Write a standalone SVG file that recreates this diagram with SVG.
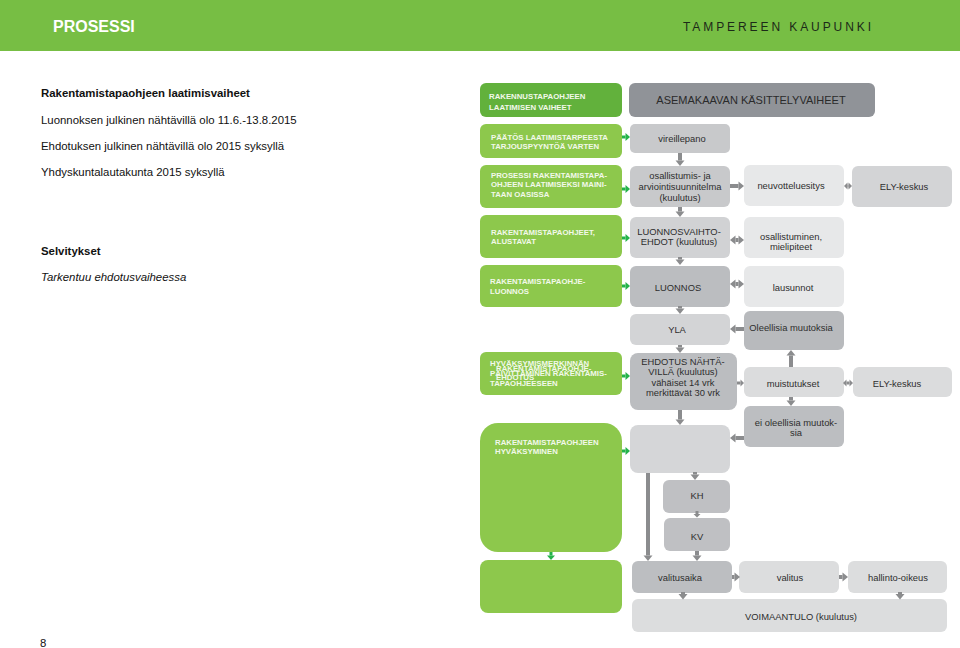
<svg xmlns="http://www.w3.org/2000/svg" width="960" height="648" viewBox="0 0 960 648">
<defs>
<style>
.t{font-family:"Liberation Sans",Arial,sans-serif;}
.lt{font-family:"Liberation Sans",Arial,sans-serif;font-size:11.4px;fill:#111;}
.gb{font-family:"Liberation Sans",Arial,sans-serif;font-weight:bold;font-size:7.8px;fill:#F2F8EA;}
.gt{font-family:"Liberation Sans",Arial,sans-serif;font-size:9.4px;fill:#2e2e2e;text-anchor:middle;}
.grn{fill:#8DC84C;}
.ar{fill:none;stroke:#8B8C8E;stroke-width:4;}
.as{fill:none;stroke:#8B8C8E;stroke-width:3;}
.ag{fill:none;stroke:#25B34B;stroke-width:3;}
</style>
<marker id="ah" markerUnits="userSpaceOnUse" markerWidth="8" markerHeight="12" refX="0" refY="5" orient="auto-start-reverse" overflow="visible"><path d="M0,0.5 L5.5,5 L0,9.5 z" fill="#8B8C8E"/></marker>
<marker id="ahs" markerUnits="userSpaceOnUse" markerWidth="6" markerHeight="8" refX="0" refY="3.5" orient="auto-start-reverse" overflow="visible"><path d="M0,0 L3.5,3.5 L0,7 z" fill="#8B8C8E"/></marker>
<marker id="ahg" markerUnits="userSpaceOnUse" markerWidth="6" markerHeight="9" refX="0" refY="4" orient="auto" overflow="visible"><path d="M0,0 L4.5,4 L0,8 z" fill="#25B34B"/></marker>
</defs>
<rect width="960" height="648" fill="#fff"/>
<g id="header">
<rect x="0" y="0" width="960" height="51" fill="#77BE44"/>
<text class="t" x="53" y="32" font-size="16" font-weight="bold" fill="#fff">PROSESSI</text>
<text class="t" x="683" y="31" font-size="12" fill="#1c2a18" textLength="188" lengthAdjust="spacing">TAMPEREEN KAUPUNKI</text>
</g>
<g id="left-text">
<text class="lt" x="41" y="97" font-weight="bold">Rakentamistapaohjeen laatimisvaiheet</text>
<text class="lt" x="41" y="124">Luonnoksen julkinen nähtävillä olo 11.6.-13.8.2015</text>
<text class="lt" x="41" y="150">Ehdotuksen julkinen nähtävillä olo 2015 syksyllä</text>
<text class="lt" x="41" y="176">Yhdyskuntalautakunta 2015 syksyllä</text>
<text class="lt" x="41" y="255" font-weight="bold">Selvitykset</text>
<text class="lt" x="41" y="281" font-style="italic">Tarkentuu ehdotusvaiheessa</text>
<text class="lt" x="40" y="647">8</text>
</g>
<g id="g1"><rect x="480" y="83" width="142" height="34" rx="6" fill="#62B13C"/>
<text class="gb" x="489" y="99.3" font-size="9" fill="#fff">RAKENNUSTAPAOHJEEN</text>
<text class="gb" x="489" y="110.3" font-size="9" fill="#fff">LAATIMISEN VAIHEET</text></g>
<g id="g2"><rect class="grn" x="480" y="124" width="142" height="34" rx="6"/>
<text class="gb" x="491" y="139.8">PÄÄTÖS LAATIMISTARPEESTA</text>
<text class="gb" x="491" y="148.8">TARJOUSPYYNTÖÄ VARTEN</text></g>
<g id="g3"><rect class="grn" x="480" y="165" width="142" height="43" rx="6"/>
<text class="gb" x="491" y="178">PROSESSI RAKENTAMISTAPA-</text>
<text class="gb" x="491" y="187">OHJEEN LAATIMISEKSI MAINI-</text>
<text class="gb" x="491" y="197">TAAN OASISSA</text></g>
<g id="g4"><rect class="grn" x="480" y="215" width="142" height="43" rx="6"/>
<text class="gb" x="491" y="234.8">RAKENTAMISTAPAOHJEET,</text>
<text class="gb" x="491" y="243.8">ALUSTAVAT</text></g>
<g id="g5"><rect class="grn" x="480" y="265" width="142" height="42" rx="6"/>
<text class="gb" x="490" y="283.8">RAKENTAMISTAPAOHJE-</text>
<text class="gb" x="490" y="293.8">LUONNOS</text></g>
<g id="g6"><rect class="grn" x="480" y="352" width="142" height="43" rx="6"/>
<text class="gb" x="490" y="366">HYVÄKSYMISMERKINNÄN</text>
<text class="gb" x="496" y="370.5">RAKENTAMISTAPAOHJE-</text>
<text class="gb" x="490" y="376">PÄIVITTÄMINEN RAKENTAMIS-</text>
<text class="gb" x="496" y="379.5">EHDOTUS</text>
<text class="gb" x="490" y="385.5">TAPAOHJEESEEN</text></g>
<g id="g7"><rect class="grn" x="480" y="423" width="142" height="129" rx="18"/>
<text class="gb" x="495" y="444.8">RAKENTAMISTAPAOHJEEN</text>
<text class="gb" x="495" y="453.8">HYVÄKSYMINEN</text></g>
<g id="g8"><rect class="grn" x="480" y="560" width="142" height="53" rx="8"/></g>
<g id="asemakaava"><rect x="629" y="83" width="246" height="34" rx="6" fill="#909398"/>
<text class="t" x="751" y="104" font-size="11" fill="#2a2a2a" text-anchor="middle">ASEMAKAAVAN KÄSITTELYVAIHEET</text></g>
<g id="vireillepano"><rect x="630" y="124" width="100" height="29" rx="5" fill="#C8C9CB"/>
<text class="gt" x="682" y="141.5">vireillepano</text></g>
<g id="oas"><rect x="630" y="166" width="100" height="41" rx="6" fill="#C8C9CB"/>
<text class="gt" x="680" y="179.3">osallistumis- ja</text>
<text class="gt" x="680" y="190">arviointisuunnitelma</text>
<text class="gt" x="680" y="200.5">(kuulutus)</text></g>
<g id="neuvotteluesitys"><rect x="744" y="165" width="100" height="41" rx="6" fill="#E7E8E9"/>
<text class="gt" x="791" y="188.8">neuvotteluesitys</text></g>
<g id="ely1"><rect x="852" y="166" width="100" height="41" rx="6" fill="#D3D4D6"/>
<text class="gt" x="904" y="190">ELY-keskus</text></g>
<g id="luonnosvaihto"><rect x="630" y="217" width="100" height="41" rx="6" fill="#D1D2D4"/>
<text class="gt" x="679" y="234.5">LUONNOSVAIHTO-</text>
<text class="gt" x="679" y="245">EHDOT (kuulutus)</text></g>
<g id="osallistuminen"><rect x="744" y="217" width="100" height="41" rx="6" fill="#E7E8E9"/>
<text class="gt" x="791" y="239.5">osallistuminen,</text>
<text class="gt" x="791" y="249.5">mielipiteet</text></g>
<g id="luonnos"><rect x="630" y="266" width="100" height="41" rx="6" fill="#BBBDC0"/>
<text class="gt" x="678" y="290.5">LUONNOS</text></g>
<g id="lausunnot"><rect x="744" y="266" width="100" height="41" rx="6" fill="#E7E8E9"/>
<text class="gt" x="793" y="291">lausunnot</text></g>
<g id="yla"><rect x="630" y="314" width="100" height="31" rx="6" fill="#D3D4D6"/>
<text class="gt" x="677" y="333">YLA</text></g>
<g id="oleellisia"><rect x="744" y="311" width="100" height="39" rx="6" fill="#B8BABD"/>
<text class="gt" x="791" y="330.5">Oleellisia muutoksia</text></g>
<g id="ehdotus"><rect x="630" y="353" width="107" height="57" rx="8" fill="#BBBDC0"/>
<text class="gt" x="683" y="364.5">EHDOTUS NÄHTÄ-</text>
<text class="gt" x="683" y="375">VILLÄ (kuulutus)</text>
<text class="gt" x="683" y="385.5">vähäiset 14 vrk</text>
<text class="gt" x="683" y="396">merkittävät 30 vrk</text></g>
<g id="muistutukset"><rect x="744" y="367" width="100" height="30" rx="6" fill="#DBDCDD"/>
<text class="gt" x="793" y="386.5">muistutukset</text></g>
<g id="ely2"><rect x="853" y="367" width="99" height="30" rx="6" fill="#DBDCDD"/>
<text class="gt" x="897" y="386.5">ELY-keskus</text></g>
<g id="eioleellisia"><rect x="744" y="406" width="100" height="41" rx="6" fill="#BCBEC1"/>
<text class="gt" x="796" y="425.5">ei oleellisia muutok-</text>
<text class="gt" x="796" y="436">sia</text></g>
<g id="empty"><rect x="630" y="425" width="100" height="48" rx="8" fill="#D5D6D8"/></g>
<g id="kh"><rect x="663" y="480" width="67" height="33" rx="6" fill="#BFC0C3"/>
<text class="gt" x="697" y="498.5">KH</text></g>
<g id="kv"><rect x="664" y="518" width="66" height="33" rx="6" fill="#BFC0C3"/>
<text class="gt" x="697" y="539.5">KV</text></g>
<g id="valitusaika"><rect x="632" y="561" width="100" height="32" rx="6" fill="#BCBEC1"/>
<text class="gt" x="680" y="581">valitusaika</text></g>
<g id="valitus"><rect x="739" y="561" width="100" height="32" rx="6" fill="#DCDDDE"/>
<text class="gt" x="790" y="581">valitus</text></g>
<g id="hallinto"><rect x="848" y="561" width="99" height="32" rx="6" fill="#DCDDDE"/>
<text class="gt" x="898" y="581">hallinto-oikeus</text></g>
<g id="voimaantulo"><rect x="632" y="599" width="315" height="33" rx="6" fill="#DCDDDE"/>
<text class="gt" x="801" y="619.5">VOIMAANTULO (kuulutus)</text></g>
<g id="connectors">
<path class="ar" d="M680,153 V160.5" marker-end="url(#ah)"/>
<path class="ar" d="M680,207 V211.5" marker-end="url(#ah)"/>
<path class="ar" d="M680,257 V259.5" marker-end="url(#ah)"/>
<path class="ar" d="M680,306 V308.5" marker-end="url(#ah)"/>
<path class="ar" d="M680,345 V347.5" marker-end="url(#ah)"/>
<path class="ar" d="M680,410 V419.5" marker-end="url(#ah)"/>
<path class="ar" d="M695,472 V474.5" marker-end="url(#ah)"/>
<path class="as" d="M697,511 V514" marker-end="url(#ahs)"/>
<path class="ar" d="M697,551 V555.5" marker-end="url(#ah)"/>
<path class="ar" d="M648,473 V555.5" marker-end="url(#ah)"/>
<path class="ar" d="M730,186 H738.5" marker-end="url(#ah)"/>
<path class="as" d="M847.5,186 H848.5" marker-start="url(#ahs)" marker-end="url(#ahs)"/>
<path class="ar" d="M735.5,240 H738.5" marker-start="url(#ah)" marker-end="url(#ah)"/>
<path class="ar" d="M735.5,284 H738.5" marker-start="url(#ah)" marker-end="url(#ah)"/>
<path class="ar" d="M744,329 H735.5" marker-end="url(#ah)"/>
<path class="as" d="M737,383 H740.5" marker-end="url(#ahs)"/>
<path class="as" d="M846.5,383 H849.5" marker-start="url(#ahs)" marker-end="url(#ahs)"/>
<path class="ar" d="M791,367 V355.5" marker-end="url(#ah)"/>
<path class="ar" d="M791,397 V400.5" marker-end="url(#ah)"/>
<path class="ar" d="M744,438 H735.5" marker-end="url(#ah)"/>
<path class="ar" d="M732,577 H734.5" marker-end="url(#ah)"/>
<path class="ar" d="M839,577 H842.5" marker-end="url(#ah)"/>
<path class="ar" d="M683,592 V594" marker-end="url(#ah)"/>
<path class="ar" d="M900,592 V594" marker-end="url(#ah)"/>
<path class="ag" d="M622,137 H625.5" marker-end="url(#ahg)"/>
<path class="ag" d="M622,189 H625.5" marker-end="url(#ahg)"/>
<path class="ag" d="M622,238 H625.5" marker-end="url(#ahg)"/>
<path class="ag" d="M622,286 H625.5" marker-end="url(#ahg)"/>
<path class="ag" d="M622,376 H625.5" marker-end="url(#ahg)"/>
<path class="ag" d="M622,451 H625.5" marker-end="url(#ahg)"/>
<path class="ag" d="M551,552 V555.5" marker-end="url(#ahg)"/>
</g>
</svg>
